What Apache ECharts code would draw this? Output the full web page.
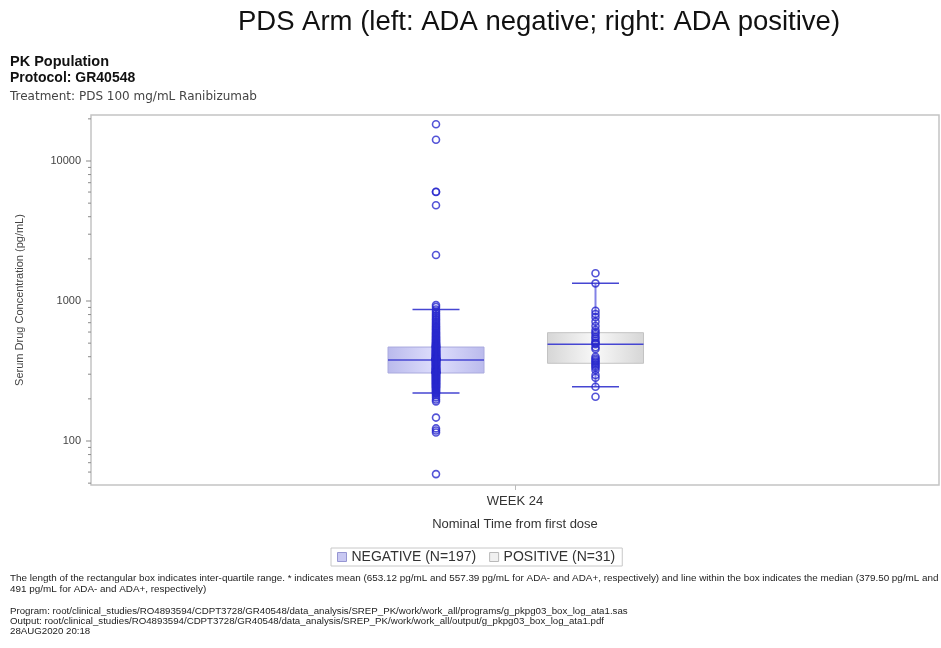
<!DOCTYPE html>
<html>
<head>
<meta charset="utf-8">
<title>PDS Arm serum concentration by ADA status</title>
<script src="https://cdn.jsdelivr.net/npm/echarts@6/dist/echarts.min.js"></script>
<style>
  html, body { margin: 0; padding: 0; background: #fff; }
  #chart { width: 941px; height: 648px; }
</style>
</head>
<body>
<div id="chart"></div>
<script>
// Visit on the category axis
const categories = ['WEEK 24'];

// Box statistics per ADA group: [low whisker, Q1, median, Q3, high whisker] (pg/mL)
const negativeStats = [220, 306, 379.5, 469, 870];
const positiveStats = [244, 359, 491, 594, 1337];

// Individual concentrations, ADA negative (N=197)
const negativeValues = [
  18290, 14200, 6030, 6010, 4830, 2130, 935, 905, 870, 842, 815, 790, 770, 748, 731, 712,
  695, 680, 664, 651, 640, 628, 617, 606, 596, 587, 578, 569, 561, 553, 546, 539, 532, 526,
  520, 514, 508, 503, 498, 494, 490, 486, 482, 479, 476, 474, 472, 470, 469,
  466, 463, 460, 457, 454, 451, 448, 445, 443, 440, 437, 435, 432, 430, 427, 425, 423, 420,
  418, 416, 414, 412, 410, 408, 406, 404, 402, 400, 398, 397, 395, 393, 392, 390, 389, 388,
  387, 386, 385, 384, 383, 382, 381, 381, 380, 380, 380, 380, 379.5,
  379, 377, 375, 373, 371, 369, 367, 365, 363, 361, 359, 357, 355, 353, 351, 349, 347, 345,
  343, 341, 339, 337, 335, 333, 331, 330, 328, 327, 325, 324, 322, 321, 319, 318, 317, 316,
  314, 313, 312, 311, 310, 309, 309, 308, 308, 307, 307, 306, 306,
  305, 303, 301, 299, 297, 295, 293, 291, 289, 287, 285, 283, 281, 279, 277, 275, 273, 271,
  269, 267, 265, 263, 261, 259, 257, 255, 253, 251, 249, 247, 245, 243, 241, 239, 236, 233,
  230, 227, 224, 221, 218, 212, 205, 198, 192, 147, 123, 119, 115, 58
];

// Individual concentrations, ADA positive (N=31)
const positiveValues = [
  1577, 1337, 852, 808, 765, 712, 663, 621, 598, 581, 556, 541, 520, 505, 498, 491,
  467, 455, 400, 388, 379, 370, 362, 352, 344, 335, 322, 296, 283, 244, 207
];

// Log-axis tick values
const majorTickValues = [100, 1000, 10000];
const minorTickValues = [50, 60, 70, 80, 90, 200, 300, 400, 500, 600, 700, 800, 900,
  2000, 3000, 4000, 5000, 6000, 7000, 8000, 9000, 20000];

const legendNames = ['NEGATIVE (N=197)', 'POSITIVE (N=31)'];

const footnoteLines = [
  'The length of the rectangular box indicates inter-quartile range. * indicates mean (653.12 pg/mL and 557.39 pg/mL for ADA- and ADA+, respectively) and line within the box indicates the median (379.50 pg/mL and',
  '491 pg/mL for ADA- and ADA+, respectively)'
];
const programLines = [
  'Program: root/clinical_studies/RO4893594/CDPT3728/GR40548/data_analysis/SREP_PK/work/work_all/programs/g_pkpg03_box_log_ata1.sas',
  'Output: root/clinical_studies/RO4893594/CDPT3728/GR40548/data_analysis/SREP_PK/work/work_all/output/g_pkpg03_box_log_ata1.pdf',
  '28AUG2020 20:18'
];

const FONT = '"Liberation Sans", Arial, sans-serif';
const WIDE_FONT = '"DejaVu Sans", Verdana, sans-serif';
const POINT_COLOR = 'rgba(40,40,205,0.8)';
const LINE_COLOR = 'rgb(70,70,210)';

// Horizontal pixel offset of each group from the category centre
const groupOffsets = [-79, 80.5];
const BOX_W = 96;
const CAP_W = 47;

function boxRenderer(offset, fill, border, whiskerColor) {
  return function (params, api) {
    const cx = api.coord([api.value(0), api.value(3)])[0] + offset;
    const yLow = api.coord([api.value(0), api.value(1)])[1];
    const yQ1 = api.coord([api.value(0), api.value(2)])[1];
    const yMed = api.coord([api.value(0), api.value(3)])[1];
    const yQ3 = api.coord([api.value(0), api.value(4)])[1];
    const yHigh = api.coord([api.value(0), api.value(5)])[1];
    const half = BOX_W / 2;
    const cap = CAP_W / 2;
    return {
      type: 'group',
      children: [
        { type: 'line', shape: { x1: cx, y1: yQ3, x2: cx, y2: yHigh },
          style: { stroke: whiskerColor, lineWidth: 2 } },
        { type: 'line', shape: { x1: cx, y1: yQ1, x2: cx, y2: yLow },
          style: { stroke: whiskerColor, lineWidth: 2 } },
        { type: 'rect', shape: { x: cx - half, y: yQ3, width: BOX_W, height: yQ1 - yQ3 },
          style: { fill: fill, stroke: border, lineWidth: 1 } },
        { type: 'line', shape: { x1: cx - half, y1: yMed, x2: cx + half, y2: yMed },
          style: { stroke: LINE_COLOR, lineWidth: 1.5 } },
        { type: 'line', shape: { x1: cx - cap, y1: yHigh, x2: cx + cap, y2: yHigh },
          style: { stroke: LINE_COLOR, lineWidth: 1.5 } },
        { type: 'line', shape: { x1: cx - cap, y1: yLow, x2: cx + cap, y2: yLow },
          style: { stroke: LINE_COLOR, lineWidth: 1.5 } }
      ]
    };
  };
}

function tickRenderer(len) {
  return function (params, api) {
    const y = api.coord([0, api.value(0)])[1];
    const x = params.coordSys.x;
    return { type: 'line', shape: { x1: x - len, y1: y, x2: x, y2: y },
      style: { stroke: '#8a8a8a', lineWidth: 1 } };
  };
}

const negFill = { type: 'linear', x: 0, y: 0, x2: 1, y2: 0, colorStops: [
  { offset: 0, color: 'rgb(186,186,236)' }, { offset: 0.5, color: 'rgb(222,222,252)' },
  { offset: 1, color: 'rgb(186,186,236)' } ] };
const posFill = { type: 'linear', x: 0, y: 0, x2: 1, y2: 0, colorStops: [
  { offset: 0, color: 'rgb(214,214,214)' }, { offset: 0.5, color: 'rgb(248,248,248)' },
  { offset: 1, color: 'rgb(214,214,214)' } ] };

const chart = echarts.init(document.getElementById('chart'), null, { renderer: 'canvas' });

chart.setOption({
  backgroundColor: '#ffffff',
  animation: false,
  textStyle: { fontFamily: FONT },
  grid: {
    left: 91, right: 2, top: 115, bottom: 163,
    show: true, borderColor: '#c4c4c4', borderWidth: 1.5, backgroundColor: '#fff'
  },
  legend: {
    left: 331, top: 548,
    data: [
      { name: legendNames[0], itemStyle: { color: 'rgb(200,200,242)', borderColor: 'rgb(150,150,210)', borderWidth: 1 } },
      { name: legendNames[1], itemStyle: { color: 'rgb(240,240,240)', borderColor: 'rgb(185,185,185)', borderWidth: 1 } }
    ],
    icon: 'rect', itemWidth: 9, itemHeight: 9, itemGap: 13,
    borderColor: '#c8c8c8', borderWidth: 1, padding: [2, 7, 2, 6],
    textStyle: { fontFamily: FONT, fontSize: 14, color: '#333' },
    selectedMode: false
  },
  xAxis: {
    type: 'category',
    data: categories,
    axisLine: { show: false },
    axisTick: { show: true, alignWithLabel: true, length: 5, lineStyle: { color: '#bbb' } },
    axisLabel: { fontFamily: FONT, fontSize: 13, color: '#333', margin: 10 },
    name: 'Nominal Time from first dose',
    nameLocation: 'middle', nameGap: 33,
    nameTextStyle: { fontFamily: FONT, fontSize: 13, color: '#333' },
    splitLine: { show: false }
  },
  yAxis: {
    type: 'log', logBase: 10,
    min: 48.5, max: 21310,
    axisLine: { show: false },
    axisTick: { show: false },
    splitLine: { show: false },
    axisLabel: {
      fontFamily: FONT, fontSize: 11, color: '#444', margin: 10,
      showMinLabel: false, showMaxLabel: false,
      formatter: function (v) { return majorTickValues.indexOf(Math.round(v)) >= 0 ? String(Math.round(v)) : ''; }
    },
    name: 'Serum Drug Concentration (pg/mL)',
    nameLocation: 'middle', nameGap: 66, nameRotate: 90,
    nameTextStyle: { fontFamily: FONT, fontSize: 11, color: '#444' }
  },
  series: [
    {
      name: legendNames[0], type: 'custom', z: 2,
      renderItem: boxRenderer(groupOffsets[0], negFill, 'rgb(170,170,222)', 'rgb(120,120,228)'),
      encode: { x: 0, y: [1, 2, 3, 4, 5] },
      itemStyle: { color: 'rgb(200,200,242)' },
      data: [[0].concat(negativeStats)]
    },
    {
      name: legendNames[1], type: 'custom', z: 2,
      renderItem: boxRenderer(groupOffsets[1], posFill, 'rgb(195,195,195)', 'rgb(130,130,230)'),
      encode: { x: 0, y: [1, 2, 3, 4, 5] },
      itemStyle: { color: 'rgb(240,240,240)' },
      data: [[0].concat(positiveStats)]
    },
    {
      name: 'negative points', type: 'scatter', z: 3,
      symbol: 'circle', symbolSize: 7, symbolOffset: [groupOffsets[0], 0],
      itemStyle: { color: 'rgba(0,0,0,0)', borderColor: POINT_COLOR, borderWidth: 1.6, opacity: 1 },
      emphasis: { disabled: true },
      data: negativeValues.map(function (v) { return [0, v]; })
    },
    {
      name: 'positive points', type: 'scatter', z: 3,
      symbol: 'circle', symbolSize: 7, symbolOffset: [groupOffsets[1], 0],
      itemStyle: { color: 'rgba(0,0,0,0)', borderColor: POINT_COLOR, borderWidth: 1.6, opacity: 1 },
      emphasis: { disabled: true },
      data: positiveValues.map(function (v) { return [0, v]; })
    },
    {
      name: 'major ticks', type: 'custom', silent: true, clip: false,
      renderItem: tickRenderer(5), encode: { y: 0 },
      data: majorTickValues.map(function (v) { return [v]; })
    },
    {
      name: 'minor ticks', type: 'custom', silent: true, clip: false,
      renderItem: tickRenderer(3), encode: { y: 0 },
      data: minorTickValues.filter(function (v) { return v > 48.5 && v < 21310; }).map(function (v) { return [v]; })
    }
  ],
  graphic: [
    { type: 'text', x: 539, y: 22,
      style: { text: 'PDS Arm (left: ADA negative; right: ADA positive)', font: '27.5px ' + FONT, fill: '#111',
        textAlign: 'center', textVerticalAlign: 'middle' } },
    { type: 'text', x: 10, y: 54,
      style: { text: 'PK Population', font: 'bold 14.5px ' + FONT, fill: '#111' } },
    { type: 'text', x: 10, y: 71,
      style: { text: 'Protocol: GR40548', font: 'bold 14px ' + FONT, fill: '#111' } },
    { type: 'text', x: 10, y: 91,
      style: { text: 'Treatment: PDS 100 mg/mL Ranibizumab', font: '12px ' + WIDE_FONT, fill: '#444' } },
    { type: 'text', x: 10, y: 573,
      style: { text: footnoteLines[0], font: '9.9px ' + FONT, fill: '#222' } },
    { type: 'text', x: 10, y: 584,
      style: { text: footnoteLines[1], font: '9.9px ' + FONT, fill: '#222' } },
    { type: 'text', x: 10, y: 606,
      style: { text: programLines[0], font: '9.7px ' + FONT, fill: '#222' } },
    { type: 'text', x: 10, y: 616,
      style: { text: programLines[1], font: '9.7px ' + FONT, fill: '#222' } },
    { type: 'text', x: 10, y: 626,
      style: { text: programLines[2], font: '9.7px ' + FONT, fill: '#222' } }
  ]
});
</script>
</body>
</html>
